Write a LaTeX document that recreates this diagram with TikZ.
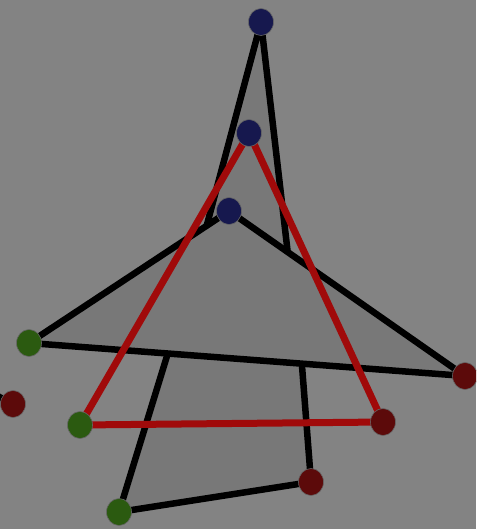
\documentclass[tikz,border=0pt]{standalone}
\usetikzlibrary{shapes.geometric}
\definecolor{bg}{HTML}{838383}
\definecolor{shapefill}{HTML}{787878}
\definecolor{dotblue}{HTML}{16184E}
\definecolor{dotgreen}{HTML}{2B5A10}
\definecolor{dotred}{HTML}{5C0A0A}
\definecolor{redline}{HTML}{A00A0A}
\begin{document}
\begin{tikzpicture}[x=1pt,y=-1pt,
  edge/.style={draw=black,line width=6.5pt,line join=round,fill=shapefill},
  redtri/.style={draw=redline,line width=7pt,line join=round},
  dot/.style={ellipse,minimum width=25pt,minimum height=27pt,inner sep=0pt,draw=black!60,line width=0.6pt},
  bdot/.style={dot,fill=dotblue},
  gdot/.style={dot,fill=dotgreen},
  rdot/.style={dot,fill=dotred}]
\fill[bg] (0,0) rectangle (476,529);
\useasboundingbox (0,0) rectangle (476,529);
\clip (0,0) rectangle (476,529);
% vertices
\coordinate (A) at (261,22);
\coordinate (Abl) at (197,262);
\coordinate (Abr) at (290,272);
\coordinate (B) at (249,133);
\coordinate (C) at (229,211);
\coordinate (G1) at (29,343);
\coordinate (G2) at (80,425);
\coordinate (G3) at (119,512);
\coordinate (R1) at (465,376);
\coordinate (R2) at (383,422);
\coordinate (R3) at (311,482);
\coordinate (R4) at (13,404);
\coordinate (Off) at (-14,390);
\coordinate (Qtl) at (175,330);
\coordinate (Qtr) at (300,340);
% back shapes
\path[edge] (A) -- (Abr) -- (Abl) -- cycle;
\path[edge] (G3) -- (Qtl) -- (Qtr) -- (R3) -- cycle;
\draw[black,line width=6.5pt] (R4) -- (Off);
% middle triangle
\path[edge] (G1) -- (C) -- (R1) -- cycle;
% red triangle
\draw[redtri] (B) -- (G2) -- (R2) -- cycle;
% dots
\node[bdot] (nA) at (A) {};
\node[bdot] (nB) at (B) {};
\node[bdot] (nC) at (C) {};
\node[gdot] (nG1) at (G1) {};
\node[gdot] (nG2) at (G2) {};
\node[gdot] (nG3) at (G3) {};
\node[rdot] (nR1) at (R1) {};
\node[rdot] (nR2) at (R2) {};
\node[rdot] (nR3) at (R3) {};
\node[rdot] (nR4) at (R4) {};
\end{tikzpicture}
\end{document}
